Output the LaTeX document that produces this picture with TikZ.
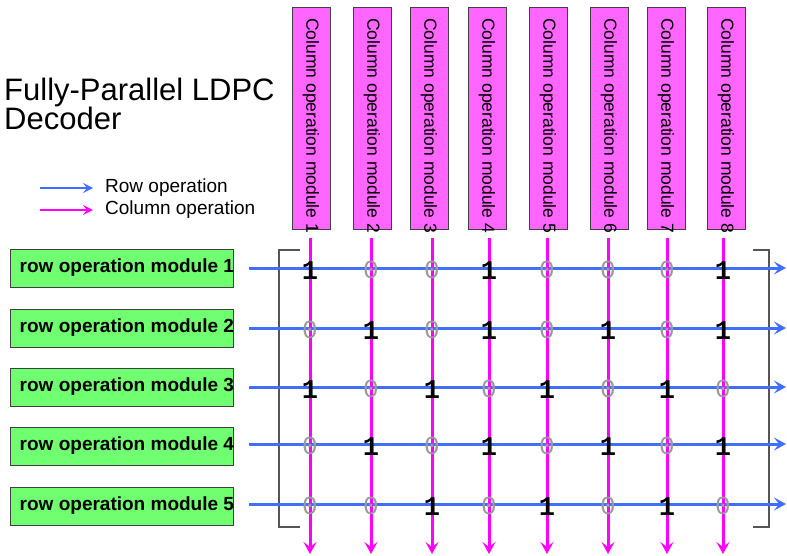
\documentclass[tikz,border=0pt]{standalone}
\usepackage{fontspec}
\setmainfont{Liberation Sans}
\newfontfamily\digitfont{Liberation Mono}
\usetikzlibrary{arrows.meta,calc}

\definecolor{rowblue}{HTML}{3F6FFF}
\definecolor{colmag}{HTML}{FF00FF}
\definecolor{colfill}{HTML}{FF66FF}
\definecolor{rowfill}{HTML}{70FF70}
\definecolor{zerogray}{HTML}{9A9A9A}
\definecolor{brackgray}{HTML}{555555}

\begin{document}
\begin{tikzpicture}[x=1pt,y=-1pt,
  colbox/.style={draw=black!75, fill=colfill, line width=0.9pt,
    minimum width=38pt, minimum height=222pt, inner sep=0pt, anchor=north},
  coltext/.style={rotate=-90, anchor=west, inner sep=0pt,
    font=\fontsize{17.5}{17.5}\selectfont},
  rowbox/.style={draw=black!75, fill=rowfill, line width=0.9pt,
    minimum width=223pt, minimum height=38pt, inner sep=0pt},
  rowtext/.style={anchor=west, inner sep=0pt,
    font=\fontsize{19}{19}\selectfont\bfseries},
  rowarrow/.style={draw=rowblue, line width=3pt,
    -{Stealth[length=12pt,width=13pt,inset=5pt]}},
  colarrow/.style={draw=colmag, line width=3pt,
    -{Stealth[length=12pt,width=13pt,inset=5pt]}},
  legarrow/.style={line width=2.2pt,
    -{Stealth[length=10pt,width=10pt,inset=4pt]}},
  one/.style={inner sep=0pt, text=black,
    font=\fontsize{27}{27}\selectfont\digitfont\bfseries},
  zero/.style={inner sep=0pt, text=zerogray,
    font=\fontsize{26}{26}\selectfont\digitfont},
  bracket/.style={draw=brackgray, line width=1.2pt},
  legtext/.style={anchor=west, inner sep=0pt, font=\fontsize{19}{19}\selectfont}
]
\useasboundingbox (0,0) rectangle (787,555);

% heading
\node[anchor=base west, inner sep=0pt, font=\fontsize{31}{31}\selectfont] (t1) at (4,100) {Fully-Parallel LDPC};
\node[anchor=base west, inner sep=0pt, font=\fontsize{31}{31}\selectfont] (t2) at (4,129) {Decoder};

% legend
\coordinate (lgb1) at (40,188);
\coordinate (lge1) at (93,188);
\coordinate (lgb2) at (40,210);
\coordinate (lge2) at (93,210);
\draw[legarrow, rowblue] (lgb1) -- (lge1);
\draw[legarrow, colmag] (lgb2) -- (lge2);
\node[legtext] (lt1) at (105,188) {Row operation};
\node[legtext] (lt2) at (105,210) {Column operation};

% column operation modules
\foreach \i/\bx in {1/311,2/372,3/429,4/487,5/548,6/609,7/666,8/726}{
  \node[colbox] (c\i) at (\bx,7) {};
  \node[coltext] (ct\i) at ($(c\i.north)+(0,11)$) {Column operation module \i};
}

% row operation modules
\foreach \j/\ry in {1/268,2/328,3/387,4/446,5/506}{
  \node[rowbox] (r\j) at (121.5,\ry) {};
  \node[rowtext] (rt\j) at ($(r\j.west)+(10,0)$) {row operation module \j};
}

% brackets of the matrix
\coordinate (bl1) at (300,250);
\coordinate (bl2) at (279,250);
\coordinate (bl3) at (279,527);
\coordinate (bl4) at (300,527);
\coordinate (br1) at (753,250);
\coordinate (br2) at (769,250);
\coordinate (br3) at (769,527);
\coordinate (br4) at (753,527);
\draw[bracket] (bl1) -- (bl2) -- (bl3) -- (bl4);
\draw[bracket] (br1) -- (br2) -- (br3) -- (br4);

% row operation flow
\foreach \j/\ly in {1/268,2/328,3/387,4/444,5/504}{
  \coordinate (rs\j) at (249,\ly);
  \coordinate (re\j) at (786,\ly);
  \draw[rowarrow] (rs\j) -- (re\j);
}

% column operation flow
\foreach \i/\lx in {1/310,2/371,3/432,4/489,5/547,6/608,7/667,8/723}{
  \coordinate (cs\i) at (\lx,238);
  \coordinate (ce\i) at (\lx,554);
  \draw[colarrow] (cs\i) -- (ce\i);
}

% parity-check matrix entries
\foreach \j/\ly/\rowbits in {
  1/268/{1,0,0,1,0,0,0,1},
  2/328/{0,1,0,1,0,1,0,1},
  3/387/{1,0,1,0,1,0,1,0},
  4/444/{0,1,0,1,0,1,0,1},
  5/504/{0,0,1,0,1,0,1,0}}{
  \foreach \b [count=\i] in \rowbits {
    \pgfmathsetmacro{\lx}{{310,371,432,489,547,608,667,723}[\i-1]}
    \ifnum\b=1
      \node[one] (m\j-\i) at (\lx,\ly+3) {1};
    \else
      \node[zero] (m\j-\i) at (\lx,\ly+2) {0};
    \fi
  }
}
\end{tikzpicture}
\end{document}
